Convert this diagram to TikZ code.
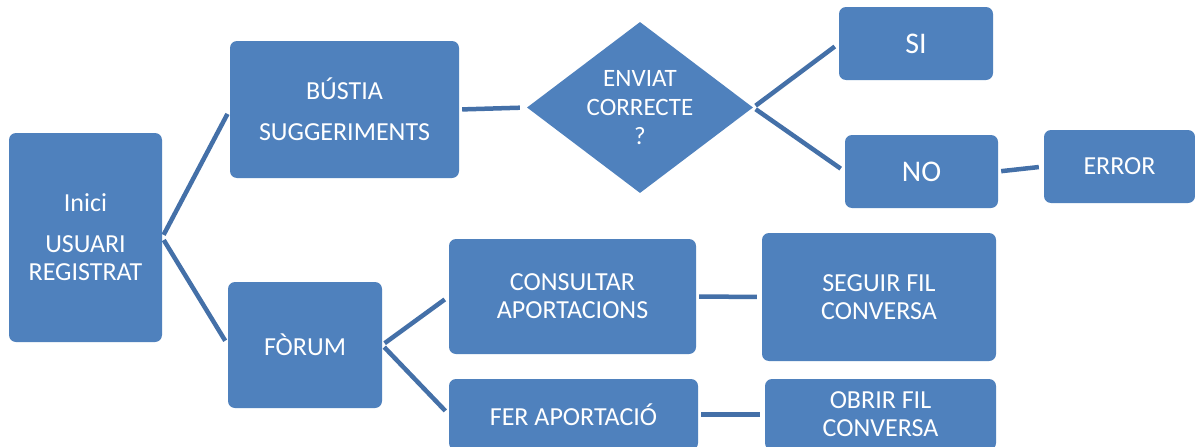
\documentclass[tikz,border=0pt]{standalone}
\usepackage{fontspec}
\setmainfont{Carlito}
\usetikzlibrary{shapes.geometric}
\definecolor{boxblue}{HTML}{4F81BD}
\definecolor{lineblue}{HTML}{4470A8}
\begin{document}
\begin{tikzpicture}[x=1pt,y=-1pt,
  box/.style={rectangle, rounded corners=7pt, fill=boxblue, text=white, inner sep=0pt, align=center,
    font=\fontsize{26}{28}\selectfont},
  bigbox/.style={box, font=\fontsize{30}{34}\selectfont},
  decision/.style={diamond, aspect=1.3, fill=boxblue, text=white, inner sep=0pt, align=center,
    font=\fontsize{25}{29}\selectfont},
  conn/.style={draw=lineblue, line width=4.5pt, shorten <=3pt, shorten >=5pt}]
\clip (0,0) rectangle (1195,447);
\fill[white] (0,0) rectangle (1195,447);

\node[box, minimum width=153, minimum height=209] (inici) at (85.5,237.5)
  {Inici\\[13pt]USUARI\\REGISTRAT};
\node[box, minimum width=229, minimum height=137, font=\fontsize{26}{41}\selectfont] (bustia) at (344.5,109.5)
  {BÚSTIA\\SUGGERIMENTS};
\node[decision, minimum width=226, minimum height=171] (enviat) at (640,107.5)
  {ENVIAT\\CORRECTE\\?};
\node[bigbox, minimum width=154, minimum height=73] (si) at (916,43.5) {SI};
\node[bigbox, minimum width=153, minimum height=73] (no) at (921.5,171.5) {NO};
\node[box, minimum width=151, minimum height=73] (error) at (1119.5,166.5) {ERROR};
\node[box, minimum width=154, minimum height=126] (forum) at (305,345) {FÒRUM};
\node[box, minimum width=247, minimum height=115] (consultar) at (572.5,296.5)
  {CONSULTAR\\APORTACIONS};
\node[box, minimum width=249, minimum height=71] (fer) at (573.5,414.5) {FER APORTACIÓ};
\node[box, minimum width=234, minimum height=128] (seguir) at (879,297)
  {SEGUIR FIL\\CONVERSA};
\node[box, minimum width=231, minimum height=71] (obrir) at (880.5,414.5)
  {OBRIR FIL\\CONVERSA};

\draw[conn] (inici.east) -- (bustia.west);
\draw[conn] (inici.east) -- (forum.west);
\draw[conn, shorten >=7pt] (bustia.east) -- (enviat.west);
\draw[conn] (enviat.east) -- (si.west);
\draw[conn] (enviat.east) -- (no.west);
\draw[conn] (no.east) -- (error.west);
\draw[conn] (forum.east) -- (consultar.west);
\draw[conn] (forum.east) -- (fer.west);
\draw[conn] (consultar.east) -- (seguir.west);
\draw[conn] (fer.east) -- (obrir.west);
\end{tikzpicture}
\end{document}
